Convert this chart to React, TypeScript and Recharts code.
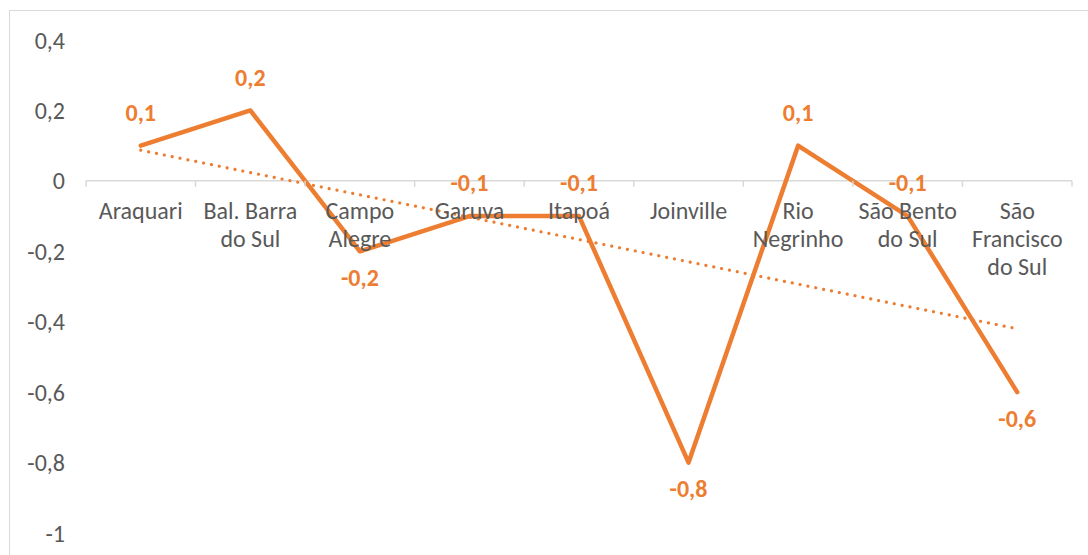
import React from 'react';
import { LineChart, Line, XAxis, YAxis, ReferenceLine, LabelList } from 'recharts';

const CATEGORIES = [
  'Araquari',
  'Bal. Barra do Sul',
  'Campo Alegre',
  'Garuva',
  'Itapoá',
  'Joinville',
  'Rio Negrinho',
  'São Bento do Sul',
  'São Francisco do Sul',
];
const VALUES = [0.1, 0.2, -0.2, -0.1, -0.1, -0.8, 0.1, -0.1, -0.6];
const Y_TICKS = [-1, -0.8, -0.6, -0.4, -0.2, 0, 0.2, 0.4];
// linear trendline, start (Araquari) and end (São Francisco do Sul)
const TREND = [0.087, -0.42];

const data = CATEGORIES.map((name, i) => ({ name, value: VALUES[i] }));

const ORANGE = '#ED7D31';
const GREY_TEXT = '#595959';
const GREY_LINE = '#d9d9d9';
const FONT = 'Carlito, Calibri, "Open Sans", sans-serif';
const FS = 24;

const W = 1088;
const H = 555;
const M = { top: 40, right: 16, bottom: 0, left: 0 };
const Y_AXIS_W = 86;
const X_AXIS_H = 22;
const PLOT_W = W - M.left - M.right - Y_AXIS_W;
const PLOT_H = H - M.top - M.bottom - X_AXIS_H;
const STEP = PLOT_W / CATEGORIES.length;
const Y_MIN = Y_TICKS[0];
const Y_MAX = Y_TICKS[Y_TICKS.length - 1];
// category labels hang from the zero line, not from the plot bottom
const Y_ZERO = M.top + (PLOT_H * Y_MAX) / (Y_MAX - Y_MIN);

const fmt = (v: number) => {
  const r = Math.round(v * 10) / 10;
  return (r === 0 ? '0' : String(r)).replace('.', ',');
};

const wrap = (text: string, maxChars: number) => {
  const words = text.split(' ');
  const lines: string[] = [];
  let cur = '';
  words.forEach((w) => {
    const next = cur ? `${cur} ${w}` : w;
    if (next.length > maxChars && cur) {
      lines.push(cur);
      cur = w;
    } else {
      cur = next;
    }
  });
  if (cur) lines.push(cur);
  return lines;
};

const CategoryTick = (props: any) => {
  const { x, payload } = props;
  const idx = props.index ?? payload.index;
  const half = STEP / 2;
  const lines = wrap(payload.value, 10);
  return (
    <g>
      <line x1={x - half} x2={x - half} y1={Y_ZERO} y2={Y_ZERO + 6} stroke={GREY_LINE} strokeWidth={1.5} />
      {idx === CATEGORIES.length - 1 && (
        <line x1={x + half} x2={x + half} y1={Y_ZERO} y2={Y_ZERO + 6} stroke={GREY_LINE} strokeWidth={1.5} />
      )}
      <text x={x} y={Y_ZERO + 38} textAnchor="middle" fill={GREY_TEXT} fontSize={FS} fontFamily={FONT}>
        {lines.map((l, i) => (
          <tspan key={i} x={x} dy={i === 0 ? 0 : 28}>
            {l}
          </tspan>
        ))}
      </text>
    </g>
  );
};

const ValueLabel = (props: any) => {
  const { x, y, value } = props;
  const below = value <= -0.2;
  return (
    <text
      x={x}
      y={below ? y + 26 : y - 33}
      dy="0.35em"
      textAnchor="middle"
      fill={ORANGE}
      fontSize={FS}
      fontWeight={700}
      fontFamily={FONT}
    >
      {fmt(value)}
    </text>
  );
};

const App = () => {
  return (
    <div style={{ position: 'absolute', left: 0, top: 0, width: W, height: H, overflow: 'hidden', background: '#fff' }}>
      <div
        style={{
          position: 'absolute',
          left: 9,
          top: 10,
          width: W + 40,
          height: H + 40,
          border: `1px solid ${GREY_LINE}`,
        }}
      />
      <div style={{ position: 'absolute', left: 0, top: 0 }}>
        <LineChart width={W} height={H} data={data} margin={M}>
          <ReferenceLine y={0} stroke={GREY_LINE} strokeWidth={1.5} />
          <XAxis
            dataKey="name"
            height={X_AXIS_H}
            interval={0}
            axisLine={false}
            tickLine={false}
            padding={{ left: STEP / 2, right: STEP / 2 }}
            tick={<CategoryTick />}
          />
          <YAxis
            width={Y_AXIS_W}
            domain={[Y_MIN, Y_MAX]}
            ticks={Y_TICKS}
            axisLine={false}
            tickLine={false}
            tickSize={0}
            tickMargin={21}
            tickFormatter={fmt}
            tick={{ fill: GREY_TEXT, fontSize: FS, fontFamily: FONT }}
          />
          <ReferenceLine
            segment={[
              { x: CATEGORIES[0], y: TREND[0] },
              { x: CATEGORIES[CATEGORIES.length - 1], y: TREND[1] },
            ]}
            stroke={ORANGE}
            strokeWidth={3.2}
            strokeDasharray="0.01 8"
            strokeLinecap="round"
            ifOverflow="visible"
          />
          <Line
            type="linear"
            dataKey="value"
            stroke={ORANGE}
            strokeWidth={4.5}
            strokeLinecap="round"
            strokeLinejoin="round"
            dot={false}
            activeDot={false}
            isAnimationActive={false}
          >
            <LabelList dataKey="value" content={<ValueLabel />} />
          </Line>
        </LineChart>
      </div>
    </div>
  );
};

export default App;
